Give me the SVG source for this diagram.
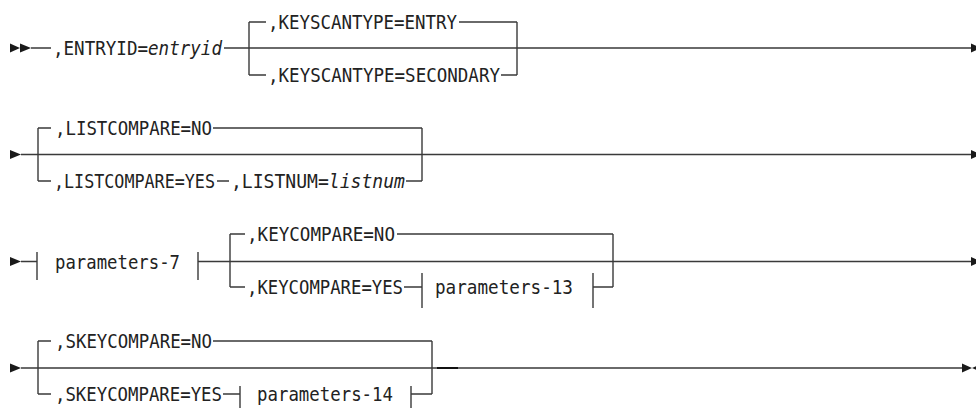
<svg xmlns="http://www.w3.org/2000/svg" width="976" height="408" viewBox="0 0 976 408">
<style>
  .ln { stroke: #3a3a3a; stroke-width: 1.4; fill: none; }
  .dk { stroke: #111; stroke-width: 2; fill: none; }
  .ar { fill: #1a1a1a; stroke: none; }
  text { font-family: "DejaVu Sans Mono", "Liberation Mono", monospace; font-size: 19px; fill: #222; }
  .it { font-style: italic; }
</style>
<rect width="976" height="408" fill="#fff"/>
<g id="connectors">
  <!-- Row 1 -->
  <polygon class="ar" points="10,43.5 20,48 10,52.5"/>
  <polygon class="ar" points="20,43.5 31,48 20,52.5"/>
  <path class="ln" d="M31,48 H51 M224,48 H972 M249,22 V75 M249,22 H266 M249,75 H266 M459,22 H517 M501,75 H517 M517,22 V75"/>
  <polygon class="ar" points="971,43.5 981,48 971,52.5"/>
  <!-- Row 2 -->
  <polygon class="ar" points="10,150 21,154.5 10,159"/>
  <path class="ln" d="M21,154.5 H972 M38,128 V181 M38,128 H51 M38,181 H51 M213,128 H422 M217,181 H229 M406,181 H422 M422,128 V181"/>
  <polygon class="ar" points="971,150 981,154.5 971,159"/>
  <!-- Row 3 -->
  <polygon class="ar" points="10,257 21,261.5 10,266"/>
  <path class="ln" d="M21,261.5 H37 M37,252 V280 M198,252 V280 M198,261.5 H972 M230,234 V287 M230,234 H245 M230,287 H245 M397,234 H613 M613,234 V287 M404,287 H422 M422,273 V308 M593,273 V308 M593,287 H613"/>
  <polygon class="ar" points="971,257 981,261.5 971,266"/>
  <!-- Row 4 -->
  <polygon class="ar" points="10,363.5 21,368 10,372.5"/>
  <path class="ln" d="M21,368 H962 M38,341 V394 M38,341 H51 M38,394 H51 M213,341 H432 M432,341 V394 M223,394 H240 M240,386 V408 M411,386 V408 M411,394 H432"/>
  <path class="dk" d="M437,368 H458"/>
  <polygon class="ar" points="962,363.5 972,368 962,372.5"/>
  <polygon class="ar" points="972,368 982,363.5 982,372.5"/>
</g>
<g id="n-entryid"><text x="53" y="55" textLength="169" lengthAdjust="spacingAndGlyphs">,ENTRYID=<tspan class="it">entryid</tspan></text></g>
<g id="n-keyscan-entry"><text x="268" y="29" textLength="189" lengthAdjust="spacingAndGlyphs">,KEYSCANTYPE=ENTRY</text></g>
<g id="n-keyscan-secondary"><text x="268" y="82" textLength="232" lengthAdjust="spacingAndGlyphs">,KEYSCANTYPE=SECONDARY</text></g>
<g id="n-listcompare-no"><text x="55" y="135" textLength="157" lengthAdjust="spacingAndGlyphs">,LISTCOMPARE=NO</text></g>
<g id="n-listcompare-yes"><text x="54" y="188" textLength="161" lengthAdjust="spacingAndGlyphs">,LISTCOMPARE=YES</text></g>
<g id="n-listnum"><text x="231" y="188" textLength="174" lengthAdjust="spacingAndGlyphs">,LISTNUM=<tspan class="it">listnum</tspan></text></g>
<g id="n-parameters-7"><text x="55" y="268.5" textLength="125" lengthAdjust="spacingAndGlyphs">parameters-7</text></g>
<g id="n-keycompare-no"><text x="247" y="241" textLength="148" lengthAdjust="spacingAndGlyphs">,KEYCOMPARE=NO</text></g>
<g id="n-keycompare-yes"><text x="247" y="294" textLength="156" lengthAdjust="spacingAndGlyphs">,KEYCOMPARE=YES</text></g>
<g id="n-parameters-13"><text x="435" y="294" textLength="138" lengthAdjust="spacingAndGlyphs">parameters-13</text></g>
<g id="n-skeycompare-no"><text x="55" y="348" textLength="157" lengthAdjust="spacingAndGlyphs">,SKEYCOMPARE=NO</text></g>
<g id="n-skeycompare-yes"><text x="55" y="401" textLength="167" lengthAdjust="spacingAndGlyphs">,SKEYCOMPARE=YES</text></g>
<g id="n-parameters-14"><text x="257" y="401" textLength="136" lengthAdjust="spacingAndGlyphs">parameters-14</text></g>
</svg>
